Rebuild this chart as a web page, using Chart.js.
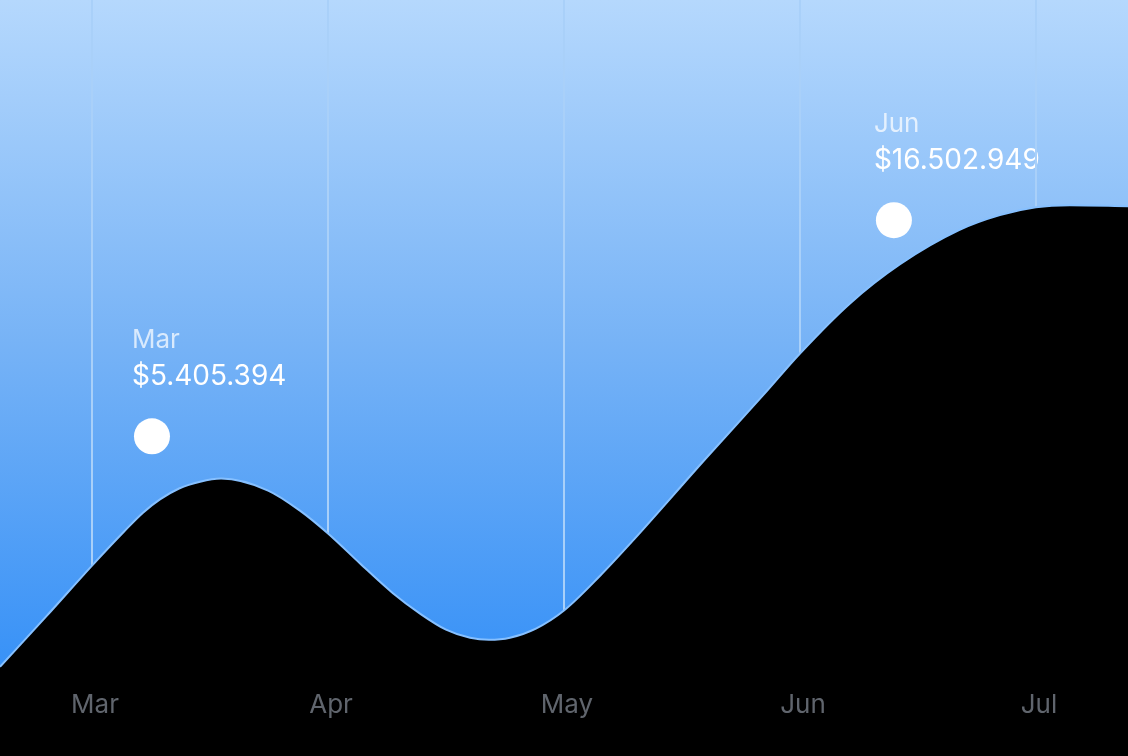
<!DOCTYPE html>
<html>
<head>
<meta charset="utf-8">
<script src="https://cdn.jsdelivr.net/npm/chart.js@4"></script>
<style>
    html, body { margin: 0; padding: 0; background: #000; }
    #grafica-div { width: 1128px; height: 756px; }
</style>
</head>
<body>
<div id="grafica-div"><canvas id="myChart"></canvas></div>
<script>
// datos de la grafica (montos en millones, posicion en meses: Mar = 1)
const meses = ['Mar', 'Apr', 'May', 'Jun', 'Jul'];
const posiciones = [0.61, 0.805, 1.0, 1.136, 1.216, 1.288, 1.369, 1.458, 1.547,
    1.746, 1.881, 2.0, 2.136, 2.275, 2.39, 2.5, 2.602, 2.682,
    2.771, 2.881, 3.0, 3.153, 3.288, 3.597, 3.843, 4.0, 4.212, 4.424, 4.674, 4.847, 5.0, 5.144, 5.39];
const montos = [0.44, 1.91, 3.41, 4.41, 4.96, 5.35, 5.67, 5.87, 5.96,
    5.61, 5.02, 4.35, 3.47, 2.60, 2.00, 1.53, 1.29, 1.23,
    1.29, 1.56, 2.09, 3.11, 4.11, 6.52, 8.40, 9.63, 11.10, 12.25, 13.25, 13.69, 13.92, 13.98, 13.95];

// puntos destacados
const destacadosMes = ['Mar', 'Jun'];
const destacadosPos = [1.254, 4.398];
const destacadosMonto = [7.20, 13.54];
const destacadosTexto = ['$5.405.394', '$16.502.949'];

const xMin = 0.61;
const xMax = 5.39;

let curva = posiciones.map((p, i) => ({ x: p, y: montos[i] }));
let puntos = destacadosPos.map((p, i) => ({ x: p, y: destacadosMonto[i] }));

// fondo degradado y textos de los puntos
const fondo = {
    id: 'fondo',
    beforeDraw(chart) {
        const ctx = chart.ctx;
        const area = chart.chartArea;
        ctx.save();
        ctx.fillStyle = '#000';
        ctx.fillRect(0, 0, chart.width, chart.height);

        let grad = ctx.createLinearGradient(0, area.top, 0, area.bottom);
        grad.addColorStop(0, '#b5d8fd');
        grad.addColorStop(0.5, '#77b3f6');
        grad.addColorStop(1, '#3590f7');
        ctx.fillStyle = grad;
        ctx.fillRect(area.left, area.top, area.right - area.left, area.bottom - area.top);

        const sx = chart.scales.x;
        const sy = chart.scales.y;
        ctx.textAlign = 'left';
        ctx.textBaseline = 'alphabetic';
        destacadosPos.forEach((p, i) => {
            let px = sx.getPixelForValue(p);
            let py = sy.getPixelForValue(destacadosMonto[i]);
            ctx.fillStyle = 'rgba(255,255,255,0.72)';
            ctx.font = '26px Inter';
            ctx.fillText(destacadosMes[i], px - 20, py - 88);
            ctx.fillStyle = '#ffffff';
            ctx.font = '28px Inter';
            ctx.fillText(destacadosTexto[i], px - 20, py - 51);
        });
        ctx.restore();
    },
    // tapa el borde inferior del area
    afterDatasetsDraw(chart) {
        const ctx = chart.ctx;
        const area = chart.chartArea;
        ctx.save();
        ctx.fillStyle = '#000';
        ctx.fillRect(0, area.bottom - 3, chart.width, 6);
        ctx.restore();
    }
};

let ctx = document.getElementById('myChart').getContext('2d');

let miGrafico = new Chart(ctx, {
    type: 'line',
    data: {
        datasets: [{
            data: curva,
            fill: 'start',
            backgroundColor: '#000000',
            borderColor: '#86c0ff',
            borderWidth: 2,
            pointRadius: 0,
            cubicInterpolationMode: 'monotone'
        }, {
            type: 'scatter',
            data: puntos,
            pointRadius: 18,
            pointHoverRadius: 18,
            backgroundColor: '#ffffff',
            borderWidth: 0
        }]
    },
    options: {
        responsive: true,
        maintainAspectRatio: false,
        animation: false,
        layout: { autoPadding: false, padding: { left: 0, right: 0, top: 0, bottom: 27 } },
        plugins: {
            legend: { display: false },
            tooltip: { enabled: false }
        },
        scales: {
            x: {
                type: 'linear',
                min: xMin,
                max: xMax,
                afterBuildTicks: (scale) => {
                    scale.ticks = meses.map((m, i) => ({ value: i + 1 }));
                },
                ticks: {
                    autoSkip: false,
                    maxRotation: 0,
                    padding: 8,
                    labelOffset: 3,
                    color: '#60656d',
                    font: { family: 'Inter', size: 26 },
                    callback: (v) => meses[v - 1]
                },
                grid: {
                    color: '#a9d0f9',
                    lineWidth: 2,
                    drawTicks: false
                },
                border: { display: false }
            },
            y: {
                display: false,
                min: 0,
                max: 20
            }
        }
    },
    plugins: [fondo]
});
</script>
</body>
</html>
